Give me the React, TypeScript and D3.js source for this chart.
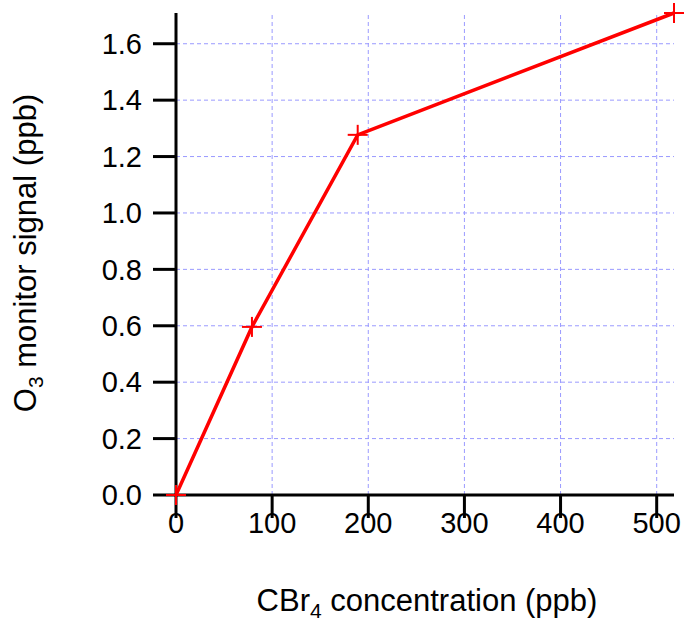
import React from "react";
import * as d3 from "d3";

const xValues = [0, 79, 189, 518];
const yValues = [0, 0.596, 1.277, 1.709];
const xTicks = [0, 100, 200, 300, 400, 500];
const yTicks = [0.0, 0.2, 0.4, 0.6, 0.8, 1.0, 1.2, 1.4, 1.6];

const W = 686;
const H = 623;
const left = 176;
const right = 674;
const top = 13;
const bottom = 495;

export default function App() {
  const x = d3.scaleLinear().domain([0, 518]).range([left, right]);
  const y = d3.scaleLinear().domain([0, 1.709]).range([bottom, top]);
  const pts = xValues.map((v, i) => [v, yValues[i]] as [number, number]);
  const line = d3.line<[number, number]>().x((d) => x(d[0])).y((d) => y(d[1]));
  const font = "Liberation Sans, Arial, sans-serif";
  const grid = "#9a9aff";
  return (
    <svg width={W} height={H} style={{ position: "absolute", left: 0, top: 0, background: "#fff" }}>
      {xTicks.filter((t) => t > 0).map((t) => (
        <line key={"gx" + t} x1={x(t)} x2={x(t)} y1={bottom} y2={top} stroke={grid} strokeWidth={1} strokeDasharray="4,3" />
      ))}
      {yTicks.filter((t) => t > 0).map((t) => (
        <line key={"gy" + t} x1={left} x2={right} y1={y(t)} y2={y(t)} stroke={grid} strokeWidth={1} strokeDasharray="4,3" />
      ))}
      <line x1={left} x2={left} y1={top} y2={bottom + 1} stroke="#000" strokeWidth={3} />
      <line x1={left - 1} x2={right} y1={bottom} y2={bottom} stroke="#000" strokeWidth={3} />
      {xTicks.map((t) => (
        <g key={"xt" + t}>
          <line x1={x(t)} x2={x(t)} y1={bottom} y2={bottom + 23} stroke="#000" strokeWidth={3} />
          <text x={x(t)} y={bottom + 38} textAnchor="middle" fontFamily={font} fontSize={29} fill="#000">
            {t}
          </text>
        </g>
      ))}
      {yTicks.map((t) => (
        <g key={"yt" + t}>
          <line x1={left - 23} x2={left} y1={y(t)} y2={y(t)} stroke="#000" strokeWidth={3} />
          <text x={left - 34} y={y(t)} dy="0.35em" textAnchor="end" fontFamily={font} fontSize={29} fill="#000">
            {t.toFixed(1)}
          </text>
        </g>
      ))}
      <path d={line(pts) || ""} fill="none" stroke="#ff0000" strokeWidth={3.5} />
      {pts.map((p, i) => (
        <g key={"m" + i} stroke="#ff0000" strokeWidth={2}>
          <line x1={x(p[0]) - 10} x2={x(p[0]) + 10} y1={y(p[1])} y2={y(p[1])} />
          <line x1={x(p[0])} x2={x(p[0])} y1={y(p[1]) - 10} y2={y(p[1]) + 10} />
        </g>
      ))}
      <text x={427} y={611} textAnchor="middle" fontFamily={font} fontSize={31} fill="#000">
        CBr<tspan dy={7} fontSize={21}>4</tspan><tspan dy={-7}> concentration (ppb)</tspan>
      </text>
      <text transform={`translate(36, 253) rotate(-90)`} textAnchor="middle" fontFamily={font} fontSize={31} fill="#000">
        O<tspan dy={7} fontSize={21}>3</tspan><tspan dy={-7}> monitor signal (ppb)</tspan>
      </text>
    </svg>
  );
}
